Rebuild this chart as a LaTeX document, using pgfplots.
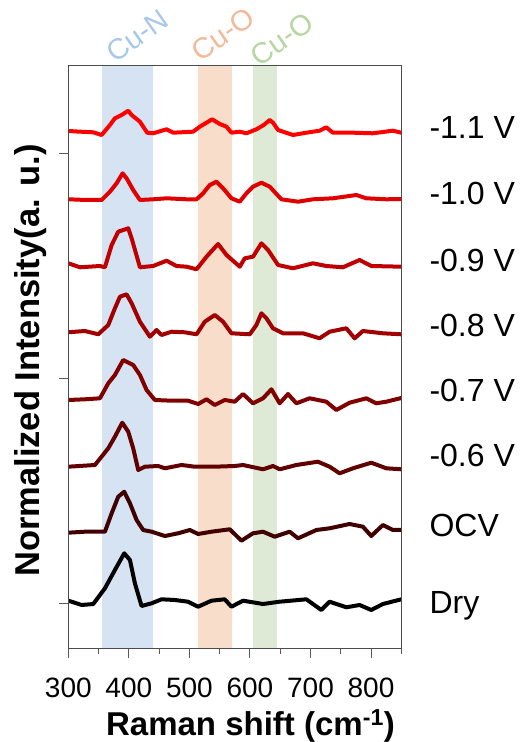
\documentclass[border=0pt]{standalone}
\usepackage{pgfplots}
\pgfplotsset{compat=1.18}
\usepackage{fontspec}
\setmainfont{Liberation Sans}
\definecolor{bandblue}{HTML}{D5E3F2}
\definecolor{bandorange}{HTML}{F8DDCB}
\definecolor{bandgreen}{HTML}{DEEAD5}
\definecolor{lblblue}{HTML}{A8C8EA}
\definecolor{lblorange}{HTML}{F4B996}
\definecolor{lblgreen}{HTML}{B5D6A0}
\definecolor{cA}{HTML}{FF0000}
\definecolor{cB}{HTML}{E00000}
\definecolor{cC}{HTML}{C00000}
\definecolor{cD}{HTML}{A00000}
\definecolor{cE}{HTML}{800000}
\definecolor{cF}{HTML}{600000}
\definecolor{cG}{HTML}{400000}
\definecolor{cH}{HTML}{000000}
\begin{document}
\begin{tikzpicture}
\path[use as bounding box] (-68.3pt,-93.5pt) rectangle (453.7pt,648.5pt);
\begin{axis}[
  at={(0pt,0pt)}, anchor=south west, scale only axis,
  width=333pt, height=583pt,
  xmin=300, xmax=850, ymin=-45.5, ymax=537.5,
  xtick={300,400,500,600,700,800},
  minor xtick={350,450,550,650,750,850},
  ytick={0,224.5,449}, yticklabels={},
  tick align=outside, xtick pos=bottom, ytick pos=left,
  major tick length=9pt, minor tick length=5pt,
  every tick/.style={black!65, line width=1pt},
  axis line style={black!70, line width=1.1pt},
  /pgf/number format/assume math mode=true,
  xticklabel style={font=\fontsize{28}{30}\selectfont, inner sep=0pt, yshift=-20.5pt},
  axis on top,
  clip=true,
]
% highlighted bands
\addplot[draw=none, fill=bandblue] coordinates {(355,-45.5) (355,537.5) (440,537.5) (440,-45.5)} -- cycle;
\addplot[draw=none, fill=bandorange] coordinates {(515,-45.5) (515,537.5) (570,537.5) (570,-45.5)} -- cycle;
\addplot[draw=none, fill=bandgreen] coordinates {(605,-45.5) (605,537.5) (645,537.5) (645,-45.5)} -- cycle;
\pgfplotsset{every axis plot/.append style={line width=4pt, line join=round, line cap=round}}
% Dry
\addplot[cH] coordinates {(300,2.3) (312,0) (322.1,-2) (341.2,-1) (360.5,14.7) (377,33) (392.4,49.7) (401.8,43) (410,19.7) (421,-3) (437.6,-0.3) (454,3.7) (476,3) (497.9,1.3) (514.4,-3.7) (536.5,2.3) (558.4,3.7) (569.5,-3.7) (588.6,2.3) (621.6,-1) (649.1,1.3) (693.2,3.7) (717.9,-7) (731.6,1.3) (759.2,-4.3) (781.1,-2) (800.4,-7) (819.6,-1) (850,3.7)};
% OCV
\addplot[cG] coordinates {(300,70.3) (327.5,71.3) (360.5,71.3) (371.6,89.7) (382.5,106.3) (392.4,111.3) (401.8,99.7) (412.8,83) (423.7,73) (437.6,71.3) (459.5,67) (481.4,69.7) (500.7,73) (514.4,69) (536.5,71.3) (566.7,73.7) (586,62.3) (605.1,69.7) (621.6,71.3) (640.9,66.3) (665.6,71.3) (679.4,64.7) (709.7,73) (731.6,74.7) (764.6,79) (786.6,76.3) (800.4,67) (819.6,78) (836.1,73) (850,73)};
% -0.6 V
\addplot[cF] coordinates {(300,136.3) (344,138) (366,154.7) (377,166.3) (389.1,180.3) (399,171.3) (407.2,154.7) (415.5,133) (426.5,136.3) (448.4,137) (459.5,134.7) (487,138) (509,136.3) (541.9,136.3) (574.9,137) (588.6,138) (621.6,133.7) (638.1,137) (649.1,133.7) (676.7,138) (712.3,141.3) (731.6,136.3) (748.1,129.7) (770.1,134.7) (800.4,140.3) (825.2,134.7) (850,133.7)};
% -0.7 V
\addplot[cE] coordinates {(300,203) (327.5,203.7) (352.3,204.7) (366,219.7) (377,228) (390.7,243) (407.2,238) (418.3,228) (429.3,213) (443,203) (470.5,202.3) (497.9,202.3) (514.4,199) (528.3,203.7) (541.9,198) (558.4,203) (574.9,201.3) (588.6,209) (605.1,199.7) (621.6,204.7) (635.5,213.7) (649.1,199.7) (662.9,209) (676.7,199.7) (698.6,204.7) (726.2,201.3) (742.7,193) (764.6,200.3) (792.2,204.7) (808.7,199.7) (825.2,201.3) (850,205)};
% -0.8 V
\addplot[cD] coordinates {(300,270.7) (327.5,272) (349.5,268.7) (366,278) (377,294.7) (385.3,306.3) (396.3,308.7) (404.6,299.7) (418.3,281.3) (434.8,266.3) (445.8,273) (454,268) (470.5,271.3) (492.5,270.7) (511.8,268.7) (525.5,281.3) (541.9,288) (555.6,281.3) (569.5,269.7) (599.7,268.7) (610.7,278) (619,289.7) (627.2,284.7) (638.1,274.7) (654.6,269.7) (687.6,269.7) (715.1,264.7) (731.6,271.3) (759.2,274.7) (772.9,264.7) (786.6,272) (819.6,269.7) (850,268.7)};
% -0.9 V
\addplot[cC] coordinates {(300,339.7) (319.3,335.7) (352.3,337) (360.5,335.7) (371.6,358) (382.5,371.3) (399,374.7) (404.6,364.7) (418.3,335.7) (440.2,337) (462.3,342.3) (478.8,337) (495.3,336.3) (511.8,333.7) (528.3,346.3) (547.4,359) (561.3,348) (583.2,336.3) (591.4,344.7) (605.1,346.3) (619,359.7) (629.9,353) (646.4,338) (671.1,334.7) (704.1,339.7) (726.2,337) (753.6,335.7) (781.1,343) (800.4,337) (850,336.3)};
% -1.0 V
\addplot[cB] coordinates {(300,403.7) (330.3,403) (355.1,403) (368.8,411.3) (379.8,419.7) (389.7,429.7) (396.3,424.7) (407.2,413) (418.3,403) (440.2,403.7) (462.3,404.7) (495.3,403.7) (511.8,403.7) (522.7,409.7) (533.7,418) (544.8,421.3) (555.6,414.7) (569.5,404.7) (583.2,401.3) (594.2,409.7) (605.1,416.3) (619,420.3) (632.7,416.3) (651.9,403.7) (679.4,401.3) (704.1,403.7) (737,404.7) (775.7,408) (792.2,404.7) (825.2,403.7) (850,404)};
% -1.1 V
\addplot[cA] coordinates {(300,472) (320,471.3) (341.2,470.7) (355.1,468) (368.8,478) (377,484.7) (388.1,488) (399,492.3) (404.6,488) (418.3,481.3) (430.3,470.3) (440.2,469.7) (462.3,473.7) (473.2,470.3) (506.2,471.3) (517.2,476.3) (528.3,480.3) (537.5,483.7) (550.2,479) (561.3,476.3) (569.5,470.3) (583.2,471.3) (594.2,469.7) (610.7,473.7) (622.8,478) (632.7,483) (638.1,480.3) (646.4,473) (671.1,468) (693.2,470.3) (715.1,472.3) (726.2,475.7) (737,470.3) (770.1,470.3) (803.1,469.7) (836.1,472.3) (850,470.3)};
\end{axis}
% band labels
\node[lblblue, rotate=35, inner sep=0pt, font=\fontsize{29}{31}\selectfont] at (68.7pt,613pt) {Cu-N};
\node[lblorange, rotate=35, inner sep=0pt, font=\fontsize{29}{31}\selectfont] at (154.7pt,614.5pt) {Cu-O};
\node[lblgreen, rotate=35, inner sep=0pt, font=\fontsize{29}{31}\selectfont] at (213.5pt,609.5pt) {Cu-O};
% curve labels
\begin{scope}[every node/.style={anchor=base west, inner sep=0pt, font=\fontsize{32}{34}\selectfont}]
\node at (361pt,509.5pt) {-1.1 V};
\node at (361pt,443.5pt) {-1.0 V};
\node at (361pt,376.8pt) {-0.9 V};
\node at (361pt,311.8pt) {-0.8 V};
\node at (361pt,246.8pt) {-0.7 V};
\node at (361pt,181.8pt) {-0.6 V};
\node at (361pt,111.8pt) {OCV};
\node at (361pt,35.2pt) {Dry};
\end{scope}
% axis titles
\node[anchor=base, inner sep=0pt, font=\bfseries\fontsize{33}{35}\selectfont] at (182.2pt,-86.5pt) {Raman shift (cm\textsuperscript{-1})};
\node[anchor=base, rotate=90, inner sep=0pt, font=\bfseries\fontsize{34.5}{36}\selectfont] at (-28.8pt,288pt) {Normalized Intensity(a. u.)};
\end{tikzpicture}
\end{document}
